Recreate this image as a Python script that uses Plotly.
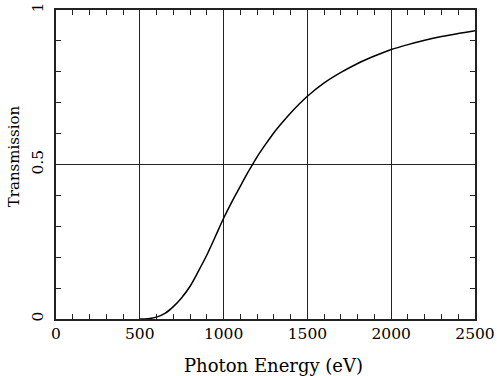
import plotly.graph_objects as go

energy_ev = [500, 550, 600, 650, 700, 750, 800, 850, 900, 950, 1000,
             1050, 1100, 1150, 1200, 1250, 1300, 1350, 1400, 1450, 1500,
             1600, 1700, 1800, 1900, 2000, 2100, 2200, 2300, 2400, 2500]
transmission = [0.000, 0.001, 0.006, 0.018, 0.040, 0.069, 0.106, 0.155, 0.207, 0.266, 0.326,
                0.380, 0.430, 0.479, 0.525, 0.565, 0.603, 0.636, 0.667, 0.695, 0.721,
                0.764, 0.798, 0.827, 0.851, 0.872, 0.888, 0.902, 0.914, 0.924, 0.933]

x_ticks = [0, 500, 1000, 1500, 2000, 2500]
y_ticks = [0, 0.5, 1]
y_tick_labels = ["0", "0.5", "1"]
x_title = "Photon Energy (eV)"
y_title = "Transmission"

FONT = "DejaVu Serif"
AX = "#222222"

fig = go.Figure()
fig.add_trace(go.Scatter(x=energy_ev, y=transmission, mode="lines",
                         line=dict(color="black", width=1.5, shape="spline", smoothing=0.8),
                         showlegend=False, hoverinfo="skip"))

fig.update_layout(
    width=497, height=376,
    margin=dict(l=56, r=22, t=10, b=57),
    paper_bgcolor="white", plot_bgcolor="white",
    font=dict(family=FONT, size=15.5, color="black"),
)
fig.update_xaxes(
    range=[0, 2500], tickvals=x_ticks, ticks="inside", ticklen=5, tickcolor=AX,
    showline=True, linecolor=AX, linewidth=1.5, mirror="ticks", automargin=False,
    showgrid=True, gridcolor=AX, gridwidth=1, zeroline=False,
    minor=dict(dtick=100, ticks="inside", ticklen=5, tickcolor=AX, showgrid=False),
    tickfont=dict(family=FONT, size=15.5),
)
fig.update_yaxes(
    range=[0, 1], tickvals=y_ticks, ticktext=y_tick_labels, tickangle=-90,
    ticks="inside", ticklen=5, tickcolor=AX, automargin=False, ticklabelstandoff=5,
    showline=True, linecolor=AX, linewidth=1.5, mirror="ticks",
    showgrid=True, gridcolor=AX, gridwidth=1, zeroline=False,
    minor=dict(dtick=0.1, ticks="inside", ticklen=5, tickcolor=AX, showgrid=False),
    tickfont=dict(family=FONT, size=15.5),
)
fig.add_annotation(text=x_title, xref="paper", yref="paper", x=0.518, y=-0.149,
                   xanchor="center", yanchor="middle", showarrow=False,
                   font=dict(family=FONT, size=18, color="black"))
fig.add_annotation(text=y_title, xref="paper", yref="paper", x=-0.1002, y=0.527,
                   xanchor="center", yanchor="middle", showarrow=False, textangle=-90,
                   font=dict(family=FONT, size=15, color="black"))

fig.write_html("out.html", config={"displayModeBar": False},
               post_script="document.body.style.margin='0';")
